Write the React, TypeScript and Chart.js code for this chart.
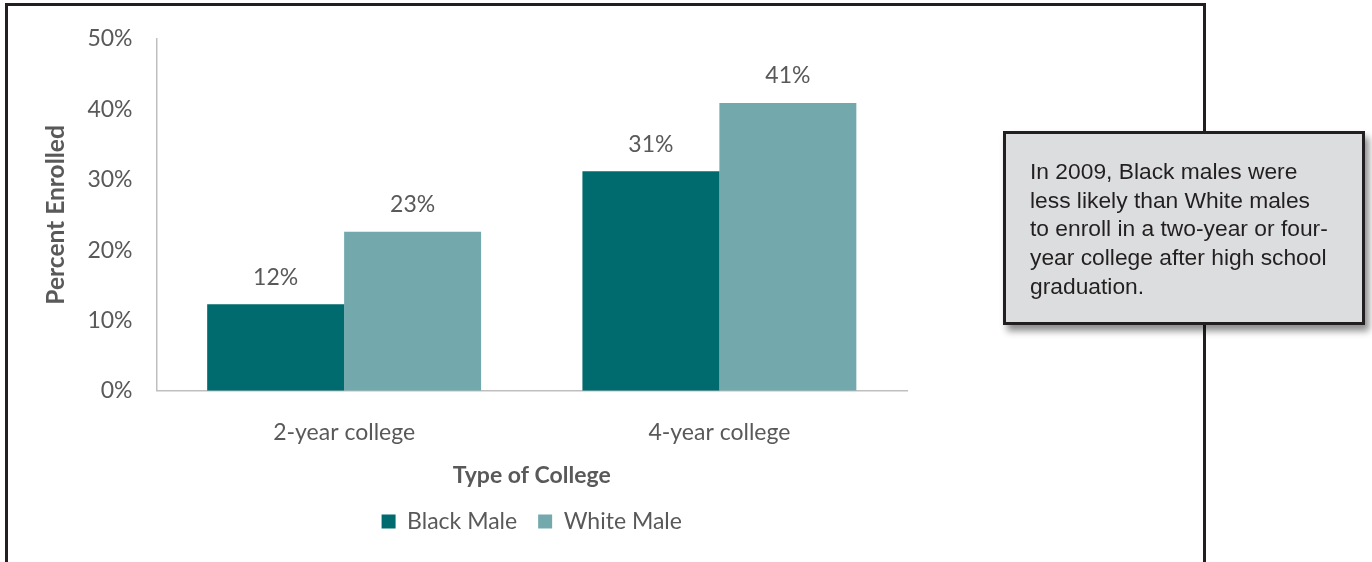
import React, { useEffect, useRef } from "react";
import { Chart, registerables } from "chart.js";

Chart.register(...registerables);

const categories = ["2-year college", "4-year college"];
const seriesNames = ["Black Male", "White Male"];
const blackMaleValues = [12.3, 31.2];
const whiteMaleValues = [22.6, 40.9];
const blackMaleLabels = ["12%", "31%"];
const whiteMaleLabels = ["23%", "41%"];
const yTicks = [0, 10, 20, 30, 40, 50];
const calloutLines = [
  "In 2009, Black males were",
  "less likely than White males",
  "to enroll in a two-year or four-",
  "year college after high school",
  "graduation.",
];

const FONT = "Lato, 'Open Sans', sans-serif";
const TEXT = "#595959";
const FS = 23;

const labelPlugin = {
  id: "barLabels",
  afterDatasetsDraw(chart: any) {
    const ctx = chart.ctx;
    const labelSets = [blackMaleLabels, whiteMaleLabels];
    chart.data.datasets.forEach((_ds: any, i: number) => {
      const meta = chart.getDatasetMeta(i);
      meta.data.forEach((bar: any, j: number) => {
        ctx.save();
        ctx.font = `${FS}px ${FONT}`;
        ctx.fillStyle = TEXT;
        ctx.textAlign = "center";
        ctx.textBaseline = "middle";
        ctx.fillText(labelSets[i][j], bar.x, bar.y - 27);
        ctx.restore();
      });
    });
  },
};

// centre the legend under the plot area rather than the whole canvas
const legendCenterPlugin = {
  id: "legendCenter",
  afterLayout(chart: any) {
    const lg = chart.legend;
    if (!lg) return;
    const ca = chart.chartArea;
    const shift = (ca.left + ca.right) / 2 - (lg.left + lg.right) / 2;
    lg.left += shift;
    lg.right += shift;
  },
};

export default function App() {
  const ref = useRef<HTMLCanvasElement | null>(null);
  useEffect(() => {
    if (!ref.current) return;
    const chart = new Chart(ref.current, {
      type: "bar",
      data: {
        labels: categories,
        datasets: [
          {
            label: seriesNames[0],
            data: blackMaleValues,
            backgroundColor: "#006b6e",
            categoryPercentage: 0.73,
            barPercentage: 1,
          },
          {
            label: seriesNames[1],
            data: whiteMaleValues,
            backgroundColor: "#73a9ad",
            categoryPercentage: 0.73,
            barPercentage: 1,
          },
        ],
      },
      options: {
        animation: false,
        responsive: false,
        devicePixelRatio: 1,
        layout: { padding: { left: 41, right: 293, top: 39, bottom: 19 } },
        plugins: {
          legend: {
            position: "bottom",
            labels: {
              boxWidth: 14,
              boxHeight: 14,
              padding: 21,
              color: TEXT,
              font: { family: FONT, size: FS },
            },
          },
          tooltip: { enabled: false },
        },
        scales: {
          x: {
            grid: { display: false, drawTicks: true, tickLength: 28 },
            border: { display: true, color: "#bfbfbf", width: 1.5 },
            ticks: { color: TEXT, font: { family: FONT, size: FS }, padding: 0 },
            title: {
              display: true,
              text: "Type of College",
              color: TEXT,
              font: { family: FONT, size: FS, weight: "bold" },
              padding: { top: 15, bottom: 0 },
            },
          },
          y: {
            min: 0,
            max: 50,
            grid: { display: false, drawTicks: true, tickLength: 24 },
            border: { display: true, color: "#bfbfbf", width: 1.5 },
            afterBuildTicks: (axis: any) => {
              axis.ticks = yTicks.map((v) => ({ value: v }));
            },
            ticks: {
              color: TEXT,
              font: { family: FONT, size: FS },
              padding: 0,
              callback: (v: any) => `${v}%`,
            },
            title: {
              display: true,
              text: "Percent Enrolled",
              color: TEXT,
              font: { family: FONT, size: 24.5, weight: "bold" },
              padding: { top: 0, bottom: 17 },
            },
          },
        },
      },
      plugins: [labelPlugin, legendCenterPlugin],
    });
    return () => chart.destroy();
  }, []);

  return (
    <div
      style={{
        position: "absolute",
        left: 0,
        top: 0,
        width: 1372,
        height: 562,
        overflow: "hidden",
        background: "#ffffff",
      }}
    >
      <div
        style={{
          position: "absolute",
          left: 5,
          top: 3,
          width: 1195,
          height: 700,
          border: "3px solid #231f20",
        }}
      />
      <canvas
        ref={ref}
        width={1200}
        height={562}
        style={{ position: "absolute", left: 0, top: 0 }}
      />
      <div
        style={{
          position: "absolute",
          left: 1003,
          top: 131,
          width: 362,
          height: 194,
          background: "#dcdddf",
          border: "3px solid #231f20",
          boxShadow: "4px 6px 7px rgba(0,0,0,0.45)",
          fontFamily: "'Liberation Sans', Arial, sans-serif",
          fontSize: 22.8,
          lineHeight: "28.7px",
          color: "#231f20",
          paddingTop: 23,
          paddingLeft: 24,
          boxSizing: "border-box",
          whiteSpace: "nowrap",
        }}
      >
        {calloutLines.map((l, i) => (
          <div key={i}>{l}</div>
        ))}
      </div>
    </div>
  );
}
